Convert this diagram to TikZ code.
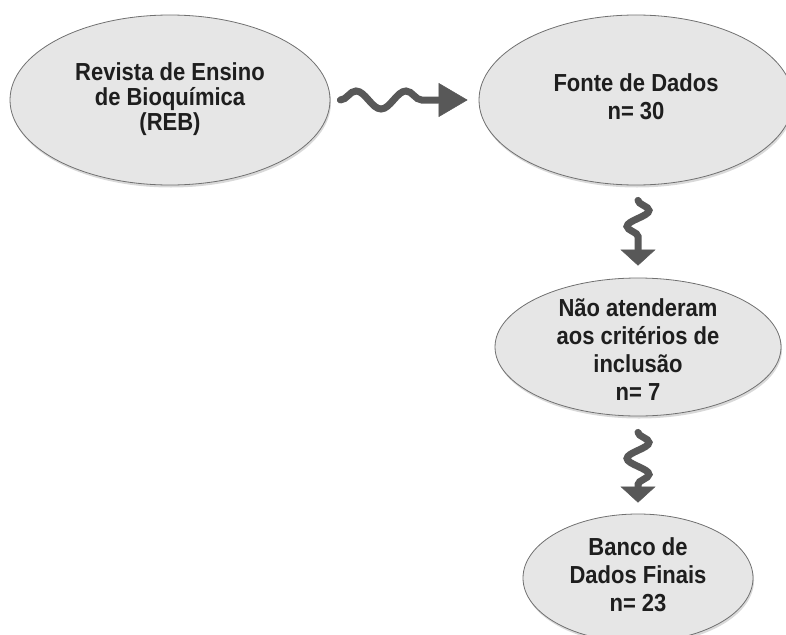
\documentclass[tikz,border=0pt]{standalone}
\usepackage{fontspec}
\setmainfont{Liberation Sans}
\usepackage{tikz}
\usetikzlibrary{shapes.geometric,shadows,arrows.meta}
\usetikzlibrary{decorations.pathmorphing}

\definecolor{bolhacinza}{HTML}{E6E6E6}
\definecolor{bordacinza}{HTML}{707070}
\definecolor{setacinza}{HTML}{585858}
\definecolor{textocinza}{HTML}{1E1E1E}

% texto um pouco esticado na vertical, como no original
\newcommand{\esticado}[1]{\scalebox{1}[1.12]{\begin{tabular}{@{}c@{}}#1\end{tabular}}}

\tikzset{
	bolha/.style={ellipse, draw=bordacinza, line width=0.8pt, fill=bolhacinza, inner sep=0pt,
		drop shadow={shadow xshift=1pt, shadow yshift=-2.5pt, opacity=0.3},
		align=center, text=textocinza, font=\bfseries\fontsize{22}{25}\selectfont},
	ondah/.style={draw=setacinza, line width=7pt, line cap=round,
		-{Triangle[length=29pt,width=34pt,line width=0.5pt]}, decorate,
		decoration={snake, amplitude=9pt, segment length=50pt, post length=29pt}},
	ondav/.style={draw=setacinza, line width=7pt, line cap=round,
		-{Triangle[length=16pt,width=35pt,line width=0.5pt]}, decorate,
		decoration={snake, amplitude=11pt, segment length=32pt, post length=16pt}}
}

\begin{document}
\begin{tikzpicture}[x=1pt,y=1pt]
	
	\useasboundingbox (0,0) rectangle (786,-634);
	
	\node[bolha, minimum width=320pt, minimum height=170pt, font=\bfseries\fontsize{22}{21.5}\selectfont] (reb) at (170,-100) {\esticado{Revista de Ensino\\de Bioquímica\\(REB)}};
	\node[bolha, minimum width=314pt, minimum height=170pt] (fonte) at (636,-100) {\esticado{Fonte de Dados\\n= 30}};
	\node[bolha, minimum width=286pt, minimum height=138pt, inner ysep=-17pt] (crit) at (638,-347) {\raisebox{-6pt}[\height][\depth]{\esticado{Não atenderam\\aos critérios de\\inclusão\\n= 7}}};
	\node[bolha, minimum width=230pt, minimum height=128pt, inner ysep=-4pt] (banco) at (638,-578) {\esticado{Banco de\\Dados Finais\\n= 23}};
	
	\draw[ondah] ([xshift=10pt]reb.east) -- ([xshift=-11pt]fonte.west);
	\draw[ondav] ([xshift=2pt,yshift=-15pt]fonte.south) -- ([yshift=12pt]crit.north);
	\draw[ondav] ([yshift=-16pt]crit.south) -- ([yshift=11pt]banco.north);
	
\end{tikzpicture}
\end{document}
